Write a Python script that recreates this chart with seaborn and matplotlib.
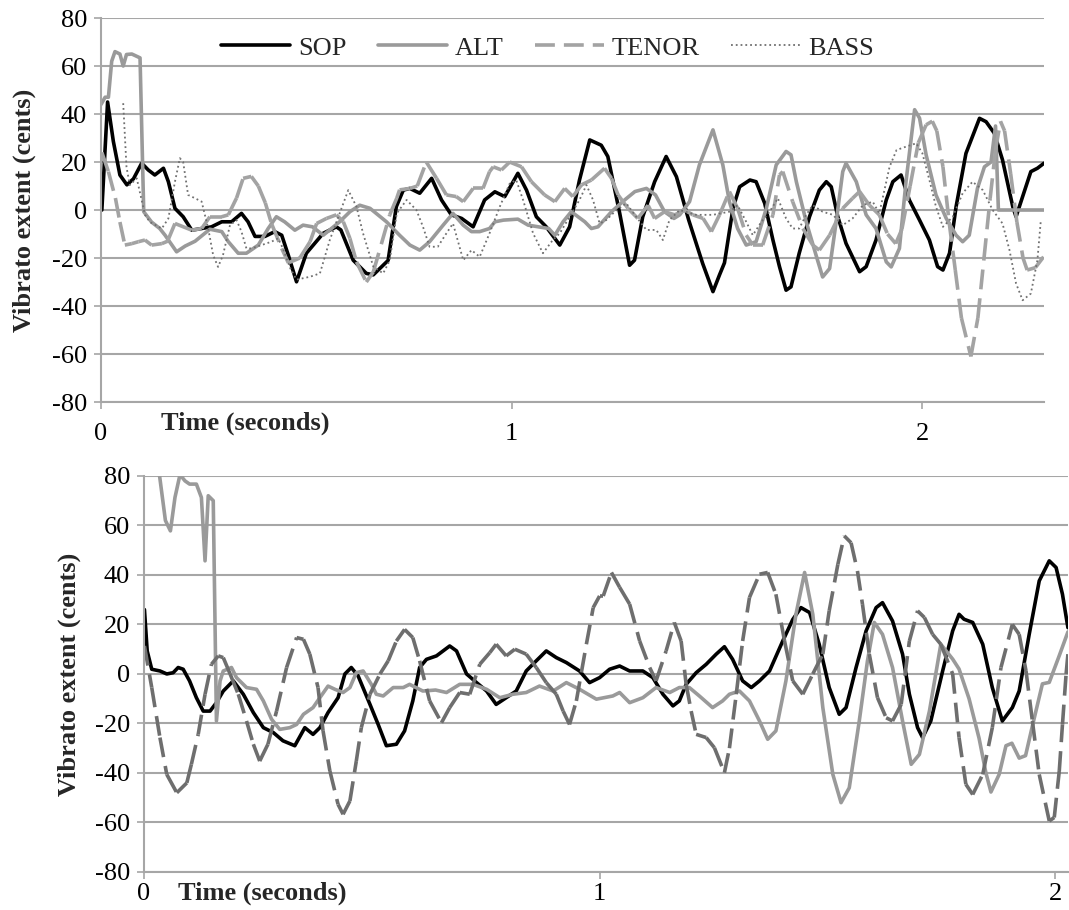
import matplotlib
matplotlib.use("Agg")
import matplotlib.pyplot as plt
from matplotlib.collections import LineCollection
import seaborn as sns
import pandas as pd

# ---- data (time in seconds, vibrato extent in cents) ----
# top panel
sop_top = [(0.002, 0), (0.016, 45), (0.030, 28.6), (0.046, 14.6), (0.063, 10.5), (0.079, 13), (0.099, 19.5),
           (0.115, 16.7), (0.131, 14.6), (0.152, 17.4), (0.164, 11.8), (0.180, 0.7), (0.200, -2.8), (0.221, -8.4),
           (0.245, -7.7), (0.269, -7), (0.294, -4.9), (0.318, -4.9), (0.342, -1.4), (0.358, -4.9), (0.375, -11),
           (0.399, -11), (0.423, -9), (0.440, -10.5), (0.456, -18.8), (0.476, -29.9), (0.500, -18), (0.541, -9.7),
           (0.573, -7), (0.584, -8.3), (0.614, -20.9), (0.646, -26.4), (0.663, -27), (0.699, -21), (0.719, 1.4),
           (0.736, 8.3), (0.752, 9), (0.776, 7), (0.805, 13.2), (0.829, 4.2), (0.853, -2), (0.878, -3.5),
           (0.906, -7), (0.934, 4.2), (0.959, 7.6), (0.983, 5.6), (1.015, 15.3), (1.036, 8.3), (1.060, -2.8),
           (1.084, -7), (1.117, -14.6), (1.141, -7), (1.165, 12.5), (1.190, 29.2), (1.218, 27), (1.234, 22.3),
           (1.263, -1.4), (1.287, -23), (1.299, -20.9), (1.319, -2.8), (1.348, 11.8), (1.376, 22.3), (1.401, 13.9),
           (1.431, -4.2), (1.465, -22.3), (1.490, -34), (1.506, -27), (1.518, -22), (1.539, 1), (1.555, 9.7),
           (1.580, 12.5), (1.595, 11.8), (1.616, 2.8), (1.636, -12.5), (1.652, -23.6), (1.668, -33.4), (1.680, -32),
           (1.700, -18), (1.725, -2.8), (1.749, 8.3), (1.766, 11.8), (1.778, 9.7), (1.794, -2.8), (1.814, -13.9),
           (1.847, -25.7), (1.863, -23.6), (1.887, -12.5), (1.912, 4.2), (1.928, 11.8), (1.948, 14.6), (1.968, 4.2),
           (1.993, -4.2), (2.017, -12.5), (2.037, -23.6), (2.050, -25), (2.066, -18), (2.082, 1.4), (2.106, 23.6),
           (2.139, 38.2), (2.155, 36.8), (2.175, 32), (2.195, 20.9), (2.220, 1.4), (2.228, -2.8), (2.244, 5.6),
           (2.264, 16), (2.280, 17.4), (2.296, 19.5)]

alt_top = [(0.000, 44), (0.010, 47), (0.018, 47), (0.026, 62), (0.034, 66), (0.046, 65), (0.054, 60), (0.062, 64.8),
           (0.075, 65), (0.095, 63.4), (0.104, -0.7), (0.123, -5), (0.143, -7.7), (0.156, -10.5), (0.184, -17.4),
           (0.205, -15), (0.229, -13), (0.265, -8), (0.294, -9), (0.310, -13.2), (0.334, -18), (0.354, -18),
           (0.383, -14.6), (0.407, -7.7), (0.427, -2.8), (0.447, -4.9), (0.472, -8.4), (0.492, -6.3), (0.515, -7),
           (0.541, -10.5), (0.581, -4.9), (0.606, -0.7), (0.630, 2), (0.655, 0.7), (0.695, -4.9), (0.727, -10.5),
           (0.752, -14.6), (0.776, -16.7), (0.800, -13.2), (0.833, -6.3), (0.857, -1.4), (0.882, -6.3), (0.902, -9),
           (0.922, -9), (0.946, -7.7), (0.959, -4.9), (0.980, -4.2), (1.015, -3.8), (1.040, -6.3), (1.065, -7),
           (1.090, -7.7), (1.105, -10.5), (1.125, -4.9), (1.145, -0.7), (1.178, -4.9), (1.194, -7.7), (1.210, -7),
           (1.243, -0.7), (1.275, 4.2), (1.300, 7.7), (1.328, 9), (1.350, 6.3), (1.372, -0.7), (1.395, -3.5),
           (1.409, -2), (1.433, 3.5), (1.457, 18.8), (1.490, 33.4), (1.514, 18.8), (1.530, 3.5), (1.550, -7.7),
           (1.571, -14.6), (1.595, -13.2), (1.620, 0.7), (1.644, 18.8), (1.668, 24.4), (1.680, 23), (1.693, 11.8),
           (1.717, -4.9), (1.741, -18.8), (1.757, -27.9), (1.774, -24.4), (1.790, -4.9), (1.806, 16), (1.814, 19.5),
           (1.839, 11.8), (1.863, -2), (1.887, -7.7), (1.912, -21.6), (1.924, -23.7), (1.944, -16), (1.960, 11.8),
           (1.981, 41.8), (1.993, 38.3), (2.009, 23), (2.033, 6.3), (2.058, -3.5), (2.082, -10.5), (2.098, -13.2),
           (2.114, -10.5), (2.134, 9), (2.151, 18), (2.167, 20), (2.178, 35), (2.185, 0), (2.296, 0)]

tenor_top = [(0.002, 24), (0.018, 16), (0.035, 5), (0.046, -5), (0.058, -14.6), (0.075, -14), (0.091, -13.2),
             (0.107, -12.5), (0.123, -14.6), (0.148, -14), (0.162, -13), (0.180, -5.6), (0.221, -8.4), (0.245, -7.7),
             (0.265, -2.8), (0.294, -2.8), (0.310, -2), (0.330, 5), (0.346, 13.2), (0.366, 14), (0.383, 10),
             (0.400, 3), (0.415, -5.6), (0.440, -16), (0.456, -22), (0.484, -20), (0.509, -13.2), (0.525, -5.6),
             (0.549, -3.5), (0.573, -2), (0.590, -4.9), (0.606, -11.8), (0.622, -21.6), (0.646, -30), (0.663, -25.8),
             (0.703, -2), (0.720, 4.9), (0.727, 8.4), (0.752, 9), (0.770, 10), (0.792, 20), (0.817, 13.2),
             (0.841, 6.3), (0.865, 5.6), (0.882, 3.5), (0.906, 9), (0.930, 9), (0.946, 16), (0.955, 18),
             (0.975, 16.7), (0.995, 20), (1.024, 18), (1.048, 11.8), (1.080, 6.3), (1.105, 3.5), (1.129, 9),
             (1.149, 5.6), (1.170, 10.5), (1.194, 12.5), (1.226, 17.4), (1.243, 13.2), (1.259, 6.3), (1.283, 0.7),
             (1.307, -3.5), (1.332, 2), (1.348, -3.5), (1.372, -0.7), (1.397, -2), (1.421, 0), (1.441, -2),
             (1.466, -3.5), (1.486, -9), (1.506, -2), (1.530, 7.7), (1.550, 0.7), (1.571, -10.5), (1.587, -14.6),
             (1.611, -14.6), (1.636, -2), (1.652, 14.6), (1.660, 16), (1.684, 3.5), (1.709, -7.7), (1.733, -14.6),
             (1.749, -16.7), (1.774, -10.5), (1.806, 0.7), (1.830, 4.9), (1.847, 7.7), (1.871, 2), (1.895, -2),
             (1.915, -10), (1.935, -14), (1.950, -8), (1.970, 10), (1.990, 28), (2.009, 35.5), (2.024, 37),
             (2.035, 33), (2.050, 18), (2.065, -5), (2.080, -25), (2.095, -45), (2.118, -61), (2.135, -45),
             (2.150, -20), (2.165, 5), (2.178, 25), (2.190, 37), (2.200, 33), (2.215, 15), (2.230, -5), (2.245, -20),
             (2.255, -25), (2.275, -24), (2.295, -19.5)]

bass_top = [(0.054, 44.5), (0.062, 18), (0.070, 10.4), (0.087, 13.2), (0.107, -2), (0.119, -5), (0.148, -7.7),
            (0.164, -3.5), (0.180, 11.8), (0.192, 21.6), (0.200, 20), (0.212, 6.3), (0.229, 4.9), (0.245, 3.5),
            (0.261, -7.7), (0.273, -18.8), (0.285, -23.7), (0.297, -18.8), (0.314, -6.3), (0.330, -4.2),
            (0.342, -9), (0.354, -16), (0.366, -16), (0.391, -14.6), (0.415, -13.2), (0.431, -11.8), (0.443, -16),
            (0.460, -24), (0.476, -29), (0.509, -27.8), (0.533, -26.4), (0.557, -12.5), (0.581, -1.4), (0.602, 8.3),
            (0.622, 1.4), (0.638, -9.7), (0.663, -23.6), (0.687, -26.4), (0.703, -21), (0.720, -1.4), (0.744, 4.2),
            (0.768, 0), (0.784, -7), (0.800, -15.3), (0.820, -15.3), (0.841, -9.7), (0.857, -5.6), (0.882, -20.9),
            (0.902, -16.7), (0.922, -19.5), (0.946, -9.7), (0.971, 1.4), (0.995, 11), (1.011, 12.5), (1.028, 4),
            (1.052, -9.7), (1.076, -18), (1.100, -12.5), (1.117, -9.7), (1.141, -2.8), (1.165, 4.2), (1.182, 10.4),
            (1.198, 4.2), (1.214, -5.6), (1.230, -4.2), (1.255, 0), (1.279, 2.8), (1.303, -2.8), (1.328, -8.3),
            (1.352, -8.3), (1.368, -12.5), (1.384, -4.2), (1.409, 0), (1.449, -2), (1.490, -2), (1.530, -0.7),
            (1.550, 2), (1.571, -4.9), (1.587, -10.5), (1.608, -4.9), (1.628, -0.7), (1.648, 4.9), (1.668, -3.5),
            (1.684, -7.7), (1.700, -7.7), (1.717, -2), (1.733, 2), (1.757, -0.7), (1.782, -2), (1.806, -6.3),
            (1.830, -3.5), (1.855, 2), (1.879, 3.5), (1.895, -1.4), (1.920, 18), (1.937, 25), (1.960, 26.4),
            (1.985, 27.8), (2.000, 23.6), (2.017, 12.5), (2.033, 1.4), (2.050, -7), (2.074, -2.8), (2.098, 7),
            (2.122, 11.8), (2.147, 8.3), (2.171, 0), (2.195, -5.6), (2.212, -16.7), (2.228, -30.6), (2.244, -37.6),
            (2.264, -34.8), (2.280, -20.9), (2.288, -4.9)]

# bottom panel
sop_bot = [(0.001, 26), (0.007, 9.3), (0.017, 1.9), (0.035, 1.2), (0.050, 0), (0.064, 0.5), (0.075, 2.6),
           (0.086, 1.9), (0.100, -2.8), (0.115, -9.6), (0.130, -15), (0.145, -15), (0.159, -11.6), (0.174, -6.9),
           (0.196, -2.8), (0.218, -8.2), (0.240, -15.6), (0.262, -21.7), (0.284, -23.7), (0.305, -27), (0.331, -29),
           (0.353, -21.7), (0.371, -24.4), (0.386, -21.7), (0.404, -15.6), (0.426, -9.6), (0.441, 0), (0.455, 2.6),
           (0.470, -0.8), (0.496, -12.3), (0.514, -20.4), (0.532, -29), (0.554, -28.4), (0.572, -23), (0.590, -10.9),
           (0.605, 2.6), (0.620, 5.9), (0.642, 7.3), (0.671, 11.3), (0.686, 9.3), (0.708, 0), (0.730, -3.5),
           (0.752, -6.9), (0.773, -12.3), (0.795, -9.6), (0.817, -6.9), (0.839, 1.2), (0.861, 5.3), (0.883, 9.3),
           (0.905, 6.6), (0.927, 4.6), (0.956, 1.2), (0.978, -3.5), (1.000, -1.5), (1.022, 1.9), (1.044, 3.2),
           (1.066, 1.2), (1.095, 1.2), (1.117, -1.5), (1.139, -8.2), (1.161, -12.9), (1.175, -10.9), (1.190, -4.2),
           (1.212, 0.5), (1.234, 3.9), (1.256, 8), (1.274, 11), (1.292, 5.9), (1.314, -2.8), (1.333, -5.5),
           (1.351, -2.8), (1.373, 1.2), (1.402, 13.3), (1.424, 22), (1.442, 26.8), (1.461, 24.8), (1.482, 12),
           (1.504, -5.5), (1.526, -16.3), (1.541, -13.6), (1.563, 2.6), (1.585, 17.4), (1.607, 26.8), (1.621, 28.8),
           (1.643, 21.4), (1.665, 8), (1.680, -8.2), (1.698, -21.7), (1.709, -25.7), (1.727, -19), (1.753, 1.2),
           (1.775, 17.4), (1.789, 24.1), (1.800, 22.1), (1.819, 20.8), (1.841, 12), (1.862, -5.5), (1.884, -19),
           (1.906, -13.6), (1.921, -6.9), (1.943, 16), (1.965, 37.6), (1.987, 45.7), (2.002, 43), (2.016, 32.2),
           (2.028, 18.7)]

alt_bot = [(0.020, 100), (0.047, 62), (0.058, 57.8), (0.068, 71.3), (0.079, 80.5), (0.090, 78), (0.100, 76.7),
           (0.115, 76.7), (0.126, 71.3), (0.134, 45.7), (0.141, 72), (0.152, 70), (0.159, -19), (0.167, -2.8),
           (0.174, 1.2), (0.192, 2.6), (0.203, -1.5), (0.225, -5.5), (0.247, -6.2), (0.262, -10.9), (0.280, -18.3),
           (0.298, -22.4), (0.320, -21.7), (0.335, -20.4), (0.350, -16.3), (0.371, -13.6), (0.386, -9.6),
           (0.404, -4.9), (0.419, -6.2), (0.437, -7.5), (0.452, -5.5), (0.466, 0.5), (0.481, 1.2), (0.499, -4.2),
           (0.510, -8.2), (0.525, -8.9), (0.547, -5.5), (0.569, -5.5), (0.583, -4.2), (0.612, -6.9), (0.640, -6.5),
           (0.664, -7.5), (0.693, -4.2), (0.722, -4.2), (0.752, -6.2), (0.781, -9.6), (0.810, -8.2), (0.839, -7.5),
           (0.868, -4.9), (0.898, -6.9), (0.927, -3.5), (0.956, -6.2), (0.993, -10.2), (1.029, -8.9), (1.044, -7.5),
           (1.066, -11.6), (1.095, -9.6), (1.124, -5.5), (1.154, -7.5), (1.175, -5.5), (1.197, -5.5), (1.219, -8.9),
           (1.248, -13.6), (1.270, -10.9), (1.285, -8.2), (1.307, -6.9), (1.329, -10.9), (1.351, -19), (1.369, -26.4),
           (1.387, -23), (1.409, -2.8), (1.431, 24.1), (1.450, 41), (1.468, 24.1), (1.490, -13.6), (1.512, -40.6),
           (1.530, -52), (1.548, -46), (1.570, -19), (1.588, 5.3), (1.603, 20.8), (1.621, 16), (1.643, 2.6),
           (1.665, -19), (1.684, -36.5), (1.702, -32.5), (1.724, -15), (1.749, 12), (1.775, 6), (1.789, 2),
           (1.811, -10), (1.833, -26), (1.848, -40), (1.859, -47.7), (1.877, -40.6), (1.892, -29), (1.905, -28),
           (1.921, -34), (1.935, -33), (1.950, -21), (1.972, -4), (1.987, -3.4), (2.009, 7.4), (2.028, 17)]

tenor_bot = [(0.001, 11.3), (0.017, -5.5), (0.035, -25.7), (0.050, -40.6), (0.072, -48), (0.094, -44),
             (0.104, -36.5), (0.119, -24.4), (0.134, -8.2), (0.148, 3.9), (0.163, 7.3), (0.174, 6.6), (0.189, 0),
             (0.207, -8.2), (0.225, -19), (0.240, -28.4), (0.254, -35.2), (0.272, -28.4), (0.291, -15), (0.313, 2.6),
             (0.335, 14.7), (0.350, 14), (0.364, 8), (0.382, -5.5), (0.393, -23), (0.408, -39.2), (0.426, -52.7),
             (0.437, -56.7), (0.452, -51.3), (0.466, -35.2), (0.477, -21.7), (0.496, -8.2), (0.518, 0), (0.536, 5.3),
             (0.554, 13.3), (0.572, 18), (0.590, 14.7), (0.605, 5.3), (0.627, -10.9), (0.653, -19.7), (0.671, -13.6),
             (0.693, -7.5), (0.715, -8.2), (0.737, 3.9), (0.759, 8.6), (0.773, 12), (0.795, 7.3), (0.814, 10),
             (0.839, 8), (0.861, 2.6), (0.883, -3.5), (0.905, -8.2), (0.920, -15), (0.934, -20.4), (0.949, -10.9),
             (0.971, 12), (0.986, 26.8), (1.000, 31.5), (1.008, 31.5), (1.026, 41), (1.044, 35), (1.066, 28.2),
             (1.088, 13.3), (1.110, 2.6), (1.124, -2.8), (1.146, 9.3), (1.164, 20.8), (1.179, 13.3), (1.190, -4.2),
             (1.201, -15), (1.212, -24.4), (1.234, -25.7), (1.252, -29.8), (1.274, -39.9), (1.285, -30),
             (1.300, -8.2), (1.314, 13.3), (1.329, 30.9), (1.351, 40.3), (1.369, 41), (1.387, 32.2), (1.406, 13.3),
             (1.424, -2.8), (1.446, -8.2), (1.468, 0), (1.490, 8), (1.504, 25.5), (1.523, 44.3), (1.537, 55.8),
             (1.552, 53), (1.566, 41.6), (1.577, 28.2), (1.592, 8), (1.610, -9.6), (1.629, -17.7), (1.643, -19),
             (1.662, -12.3), (1.680, 13.3), (1.698, 25.5), (1.713, 22.8), (1.731, 16), (1.749, 12), (1.775, 0),
             (1.789, -25.7), (1.804, -44.6), (1.819, -48.7), (1.841, -40.6), (1.862, -21.7), (1.881, 2.6),
             (1.906, 20), (1.921, 16), (1.936, 1.2), (1.950, -19), (1.965, -40.6), (1.987, -59.4), (1.998, -58),
             (2.009, -39.2), (2.016, -20.4), (2.024, 0), (2.028, 8)]

FS = 19
GRID = "#a6a6a6"
DASH = (5.5, 2.5)

sns.set_theme(style="white")
plt.rcParams["font.family"] = ["Liberation Serif", "DejaVu Serif"]
plt.rcParams["axes.unicode_minus"] = False

fig = plt.figure(figsize=(10.69, 9.10), dpi=100)
ax1 = fig.add_axes([0.0945, 0.5582, 0.8821, 0.4220])
ax2 = fig.add_axes([0.1347, 0.0418, 0.8643, 0.4352])


def draw(ax, pts, color, lw, ls="-", label=None):
    df = pd.DataFrame(pts, columns=["time", "cents"])
    sns.lineplot(data=df, x="time", y="cents", ax=ax, color=color, linewidth=lw,
                 linestyle=ls, estimator=None, sort=False, label=label)
    line = ax.lines[-1]
    line.set_solid_joinstyle("round")
    return line


def draw_dashed(ax, pts, color, lw, label=None):
    # dash pattern restarts on every segment (spreadsheet style): flat runs look solid
    line = draw(ax, pts, color, lw, label=label)
    xy = line.get_xydata()
    segs = [xy[i:i + 2] for i in range(len(xy) - 1)]
    lc = LineCollection(segs, colors=color, linewidths=lw, linestyles=[(0, DASH)],
                        zorder=line.get_zorder())
    ax.add_collection(lc)
    line.set_dashes(DASH)
    line.remove()
    return line


def style(ax, xmax, tlabel_pos, ylab_x, xpad):
    ax.set_xlim(0, xmax)
    ax.set_ylim(-80, 80)
    ax.set_yticks(range(-80, 81, 20))
    ax.set_xticks([0, 1, 2])
    ax.yaxis.grid(True, color=GRID, lw=1.5)
    ax.xaxis.grid(False)
    ax.set_axisbelow(True)
    for s in ["top", "right"]:
        ax.spines[s].set_visible(False)
    for s in ["left", "bottom"]:
        ax.spines[s].set_color(GRID)
        ax.spines[s].set_linewidth(1.5)
    ax.tick_params(axis="both", direction="out", length=5, width=1.2, color=GRID,
                   labelsize=FS, labelcolor="black", bottom=True, left=True)
    ax.tick_params(axis="x", pad=xpad)
    ax.tick_params(axis="y", pad=5)
    ax.set_xlabel("")
    ax.set_ylabel("Vibrato extent (cents)", fontsize=FS, fontweight="bold")
    ax.yaxis.set_label_coords(ylab_x, 0.5)
    ax.text(tlabel_pos[0], tlabel_pos[1], "Time (seconds)", transform=ax.transAxes,
            fontsize=FS, fontweight="bold", ha="center", va="center")
    if ax.get_legend() is not None:
        ax.get_legend().remove()


# top panel
h1 = draw(ax1, sop_top, "black", 2.6, label="SOP")
h2 = draw(ax1, alt_top, "#9a9a9a", 2.6, label="ALT")
h3 = draw_dashed(ax1, tenor_top, "#a3a3a3", 2.6, label="TENOR")
h4 = draw(ax1, bass_top, "#707070", 1.3, ls=":", label="BASS")
style(ax1, 2.296, (0.153, -0.055), -0.069, 10)
ax1.legend(handles=[h1, h2, h3, h4], loc="center", bbox_to_anchor=(0.4735, 0.922), ncol=4,
           frameon=False, fontsize=FS, handlelength=2.6, handletextpad=0.3, columnspacing=1.2)

# bottom panel
draw(ax2, sop_bot, "black", 2.6)
draw(ax2, alt_bot, "#9a9a9a", 2.6)
draw_dashed(ax2, tenor_bot, "#6e6e6e", 2.6)
style(ax2, 2.028, (0.1276, -0.053), -0.068, 3)

fig.savefig("out.png", dpi=100)
